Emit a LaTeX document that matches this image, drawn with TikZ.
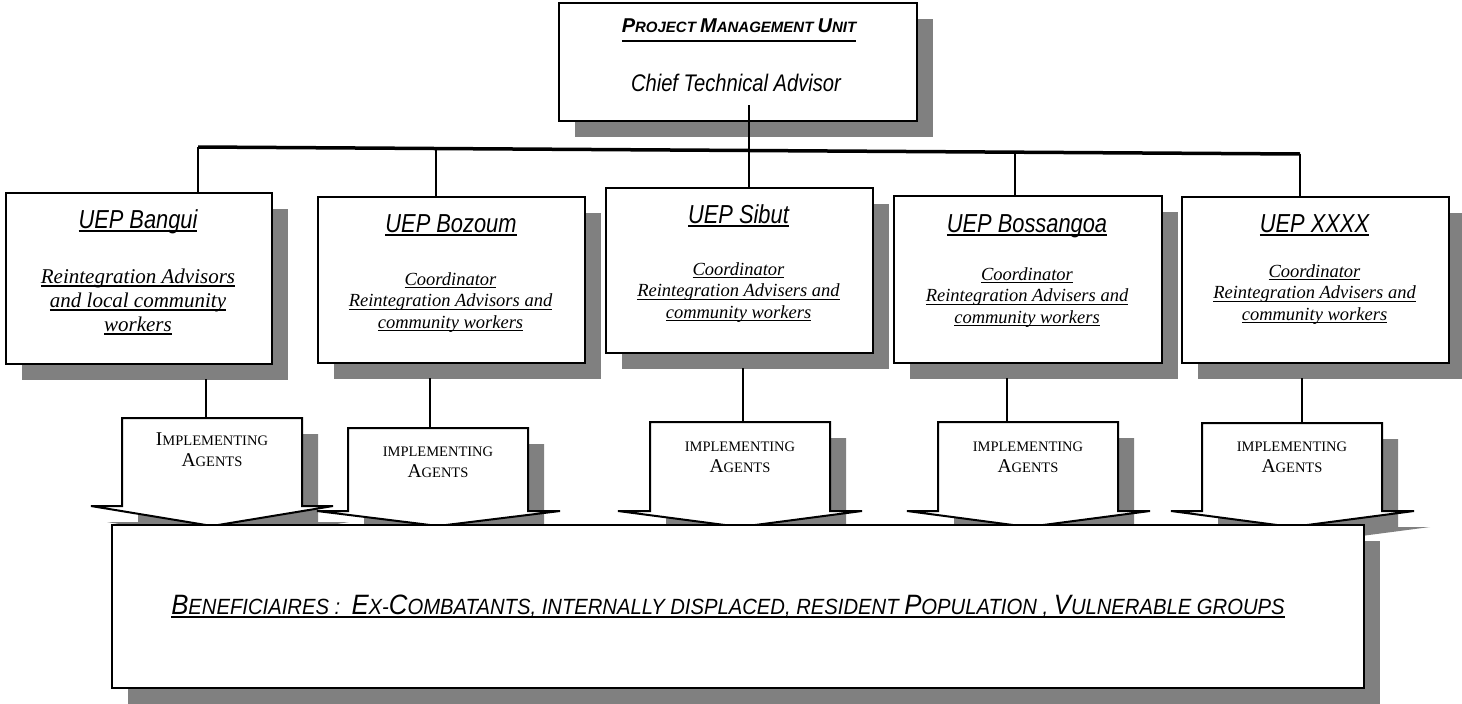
\documentclass[tikz,border=0pt]{standalone}
\usepackage{fontspec}
\setmainfont{Liberation Serif}
\newfontfamily\narrow[FakeStretch=0.84]{Liberation Sans}
\newfontfamily\narrowb[FakeStretch=0.92]{Liberation Sans}
\newfontfamily\arial{Liberation Sans}
\usetikzlibrary{shadows,calc}
\definecolor{shadowgray}{HTML}{808080}
% underline: depth of rule bottom, rule thickness, text
\newcommand{\ulz}[3]{\setbox0=\hbox{#3}\leavevmode\rlap{\rule[-#1]{\wd0}{#2}}\box0}
\def\BLsize{19.5}
\newcommand{\BL}[1]{{\fontsize{\BLsize}{\BLsize}\selectfont#1}}
\newcommand{\ArrowPath}[8]{\path[arr] (#1,#3) -- (#2,#3) -- (#2,#4) -- (#6,#4) -- (#7,#8) -- (#5,#4) -- (#1,#4) -- cycle;}
\tikzset{
  shad/.style={drop shadow={shadow xshift=16pt, shadow yshift=-16pt, opacity=1, fill=shadowgray}},
  box/.style={draw, line width=2pt, fill=white, shad, inner sep=0pt, anchor=north west},
  txt/.style={inner sep=0pt, anchor=base},
  body/.style={inner sep=0pt, anchor=north, align=center, font={\itshape\fontsize{18.5}{21.5}\selectfont}},
  ttl/.style={inner sep=0pt, anchor=base, font={\narrow\itshape\fontsize{26}{28}\selectfont}},
  agent/.style={inner sep=0pt, anchor=north, align=center, font={\fontsize{14.5}{21}\selectfont}},
  conn/.style={line width=2pt},
  bus/.style={line width=3.5pt},
  arr/.style={draw, line width=2pt, fill=white, line join=miter, shad},
}
\begin{document}
\begin{tikzpicture}[x=1pt, y=-1pt]
\useasboundingbox (0,0) rectangle (1462,704);

% top box
\node[box, minimum width=358pt, minimum height=118pt] (pmu) at (558,2) {};
\coordinate (pmuB) at (749,105);

% bus line
\coordinate (busL) at (198,147);
\coordinate (busR) at (1300,154);
\coordinate (bus2) at ($(busL)!0.216!(busR)$);
\coordinate (bus4) at ($(busL)!0.741!(busR)$);
\draw[bus] (busL) -- (busR);

% UEP boxes
\node[box, minimum width=266pt, minimum height=171pt] (bangui) at (5,192) {};
\node[box, minimum width=267pt, minimum height=166pt] (bozoum) at (317,196) {};
\node[box, minimum width=267pt, minimum height=165pt] (sibut) at (605,187) {};
\node[box, minimum width=268pt, minimum height=167pt] (bossangoa) at (893,195) {};
\node[box, minimum width=267pt, minimum height=166pt] (xxxx) at (1181,196) {};

% drops from bus
\draw[conn] (busL) -- (busL |- bangui.north);
\draw[conn] (bus2) -- (bus2 |- bozoum.north);
\draw[conn] (pmuB) -- (pmuB |- sibut.north);
\draw[conn] (bus4) -- (bus4 |- bossangoa.north);
\draw[conn] (busR) -- (busR |- xxxx.north);

% connectors down to arrows
\coordinate (d1) at (206,379); \coordinate (a1) at (206,418);
\coordinate (d2) at (430,378); \coordinate (a2) at (430,428);
\coordinate (d3) at (743,368); \coordinate (a3) at (743,422);
\coordinate (d4) at (1007,378); \coordinate (a4) at (1007,422);
\coordinate (d5) at (1302,378); \coordinate (a5) at (1302,423);
\draw[conn] (d1) -- (a1);
\draw[conn] (d2) -- (a2);
\draw[conn] (d3) -- (a3);
\draw[conn] (d4) -- (a4);
\draw[conn] (d5) -- (a5);

% arrows
\ArrowPath{122}{302}{418}{506}{91}{333}{212}{526}
\ArrowPath{348}{528}{428}{511}{317}{560}{438}{526}
\ArrowPath{650}{830}{422}{511}{618}{862}{740}{527}
\ArrowPath{938}{1118}{422}{511}{907}{1150}{1028}{527}
\ArrowPath{1202}{1382}{423}{511}{1171}{1414}{1292}{527}

% beneficiaries box
\node[box, minimum width=1252pt, minimum height=163pt] (benef) at (111,524) {};

% texts
\node[txt, font={\arial\bfseries\itshape\fontsize{15}{18}\selectfont}] (pmut) at (739,32)
  {\def\BLsize{20}\ulz{10pt}{2.5pt}{\BL{P}ROJECT \BL{M}ANAGEMENT \BL{U}NIT}};
\node[txt, font={\narrow\itshape\fontsize{24}{26}\selectfont}] (cta) at (736,91) {Chief Technical Advisor};

\node[ttl] (t1) at (138,228) {\ulz{4pt}{2pt}{UEP Bangui}};
\node[ttl] (t2) at (451,232) {\ulz{4pt}{2pt}{UEP Bozoum}};
\node[ttl] (t3) at (738.5,223) {\ulz{4pt}{2pt}{UEP Sibut}};
\node[ttl] (t4) at (1027,232) {\ulz{4pt}{2pt}{UEP Bossangoa}};
\node[ttl] (t5) at (1314.5,232) {\ulz{4pt}{2pt}{UEP XXXX}};

\node[body, font={\itshape\fontsize{21}{24}\selectfont}] (b1) at (138,268.7)
  {\ulz{3.2pt}{1.3pt}{Reintegration Advisors}\\\ulz{3.2pt}{1.3pt}{and local community}\\\ulz{3.2pt}{1.3pt}{workers}};
\node[body] (b2) at (450.5,272.4)
  {\ulz{3pt}{1.2pt}{Coordinator}\\\ulz{3pt}{1.2pt}{Reintegration Advisors and}\\\ulz{3pt}{1.2pt}{community workers}};
\node[body] (b3) at (738.5,262.4)
  {\ulz{3pt}{1.2pt}{Coordinator}\\\ulz{3pt}{1.2pt}{Reintegration Advisers and}\\\ulz{3pt}{1.2pt}{community workers}};
\node[body] (b4) at (1027,267.4)
  {\ulz{3pt}{1.2pt}{Coordinator}\\\ulz{3pt}{1.2pt}{Reintegration Advisers and}\\\ulz{3pt}{1.2pt}{community workers}};
\node[body] (b5) at (1314.5,264.4)
  {\ulz{3pt}{1.2pt}{Coordinator}\\\ulz{3pt}{1.2pt}{Reintegration Advisers and}\\\ulz{3pt}{1.2pt}{community workers}};

\node[agent] (ia1) at (212,433) {\BL{I}MPLEMENTING\\\BL{A}GENTS};
\node[agent] (ia2) at (438,446.4) {IMPLEMENTING\\\BL{A}GENTS};
\node[agent] (ia3) at (740,441.4) {IMPLEMENTING\\\BL{A}GENTS};
\node[agent] (ia4) at (1028,441.4) {IMPLEMENTING\\\BL{A}GENTS};
\node[agent] (ia5) at (1292,441.4) {IMPLEMENTING\\\BL{A}GENTS};

\node[txt, font={\narrowb\itshape\fontsize{22}{24}\selectfont}] (bent) at (728,614)
  {\def\BLsize{28}\ulz{4pt}{2pt}{\BL{B}ENEFICIAIRES :\ \ \BL{E}X-\BL{C}OMBATANTS, INTERNALLY DISPLACED, RESIDENT \BL{P}OPULATION , \BL{V}ULNERABLE GROUPS}};
\end{tikzpicture}
\end{document}
